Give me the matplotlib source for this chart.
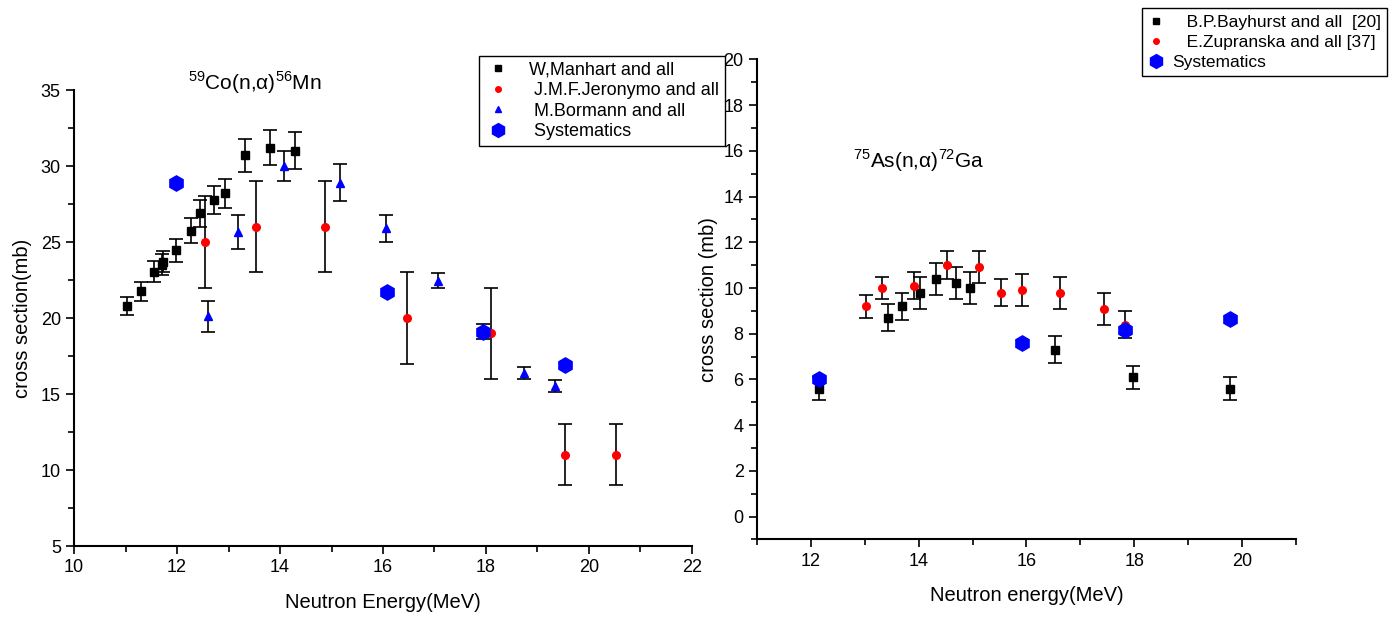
import matplotlib
matplotlib.use("Agg")
import matplotlib.pyplot as plt
from matplotlib.lines import Line2D
from matplotlib.ticker import MultipleLocator

plt.rcParams['font.family'] = ['Liberation Sans', 'DejaVu Sans']
plt.rcParams['mathtext.fontset'] = 'custom'
plt.rcParams['mathtext.rm'] = 'Liberation Sans'

# ---- left panel: 59Co(n,a)56Mn ----
man_e = [11.02, 11.30, 11.55, 11.70, 11.73, 11.99, 12.27, 12.45, 12.72, 12.93, 13.32, 13.81, 14.30]
man_s = [20.8, 21.75, 23.05, 23.5, 23.7, 24.45, 25.75, 26.9, 27.75, 28.2, 30.7, 31.2, 31.0]
man_d = [0.6, 0.63, 0.67, 0.7, 0.7, 0.75, 0.83, 0.88, 0.92, 0.95, 1.1, 1.16, 1.22]

jer_e = [12.54, 13.53, 14.87, 16.46, 18.10, 19.54, 20.53]
jer_s = [25.0, 26.0, 26.0, 20.0, 19.0, 11.0, 11.0]
jer_d = [3, 3, 3, 3, 3, 2, 2]

bor_e = [12.60, 13.19, 14.08, 15.17, 16.06, 17.06, 17.94, 18.74, 19.34]
bor_s = [20.1, 25.65, 30.0, 28.9, 25.9, 22.45, 19.1, 16.4, 15.5]
bor_d = [1.0, 1.1, 1.0, 1.2, 0.9, 0.5, 0.5, 0.4, 0.4]

sys1_e = [11.99, 16.07, 17.94, 19.54]
sys1_s = [28.9, 21.7, 19.1, 16.9]

# ---- right panel: 75As(n,a)72Ga ----
bay_e = [12.15, 13.43, 13.70, 14.03, 14.33, 14.70, 14.95, 16.52, 17.98, 19.78]
bay_s = [5.6, 8.7, 9.2, 9.8, 10.4, 10.2, 10.0, 7.3, 6.1, 5.6]
bay_d = [0.5, 0.6, 0.6, 0.7, 0.7, 0.7, 0.7, 0.6, 0.5, 0.5]

zup_e = [13.02, 13.32, 13.92, 14.52, 15.12, 15.52, 15.92, 16.62, 17.43, 17.82]
zup_s = [9.2, 10.0, 10.1, 11.0, 10.9, 9.8, 9.9, 9.8, 9.1, 8.4]
zup_d = [0.5, 0.5, 0.6, 0.6, 0.7, 0.6, 0.7, 0.7, 0.7, 0.6]

sys2_e = [12.15, 15.92, 17.82, 19.78]
sys2_s = [6.0, 7.6, 8.15, 8.66]

fig = plt.figure(figsize=(13.94, 6.19), dpi=100)
ax1 = fig.add_axes([0.0531, 0.1179, 0.4433, 0.7367])
ax2 = fig.add_axes([0.5430, 0.1286, 0.3867, 0.7753])

eb = dict(fmt='none', ecolor='k', elinewidth=1.2, capsize=5, capthick=1.2)

ax1.errorbar(man_e, man_s, yerr=man_d, **eb)
ax1.errorbar(jer_e, jer_s, yerr=jer_d, **eb)
ax1.errorbar(bor_e, bor_s, yerr=bor_d, **eb)
ax1.plot(man_e, man_s, 's', color='k', ms=5.5, zorder=3)
ax1.plot(jer_e, jer_s, 'o', color='red', ms=5.5, zorder=3)
ax1.plot(bor_e, bor_s, '^', color='blue', ms=6, zorder=3)
ax1.plot(sys1_e, sys1_s, 'h', color='blue', ms=11, zorder=4)

ax2.errorbar(bay_e, bay_s, yerr=bay_d, **eb)
ax2.errorbar(zup_e, zup_s, yerr=zup_d, **eb)
ax2.plot(bay_e, bay_s, 's', color='k', ms=5.5, zorder=3)
ax2.plot(zup_e, zup_s, 'o', color='red', ms=5.5, zorder=3)
ax2.plot(sys2_e, sys2_s, 'h', color='blue', ms=11, zorder=4)

ax1.set_xlim(10, 22)
ax1.set_ylim(5, 35)
ax1.xaxis.set_major_locator(MultipleLocator(2))
ax1.xaxis.set_minor_locator(MultipleLocator(1))
ax1.yaxis.set_major_locator(MultipleLocator(5))
ax1.yaxis.set_minor_locator(MultipleLocator(2.5))
ax1.set_xlabel("Neutron Energy(MeV)", fontsize=14.5, labelpad=12)
ax1.set_ylabel("cross section(mb)", fontsize=14.5, labelpad=6)

ax2.set_xlim(11, 21)
ax2.set_ylim(-1, 20)
ax2.xaxis.set_major_locator(MultipleLocator(2))
ax2.xaxis.set_minor_locator(MultipleLocator(1))
ax2.yaxis.set_major_locator(MultipleLocator(2))
ax2.yaxis.set_minor_locator(MultipleLocator(1))
ax2.set_xlabel("Neutron energy(MeV)", fontsize=14.5, labelpad=12)
ax2.set_ylabel("cross section (mb)", fontsize=14.5, labelpad=4)

for ax in (ax1, ax2):
    ax.spines['top'].set_visible(False)
    ax.spines['right'].set_visible(False)
    ax.spines['left'].set_linewidth(1.5)
    ax.spines['bottom'].set_linewidth(1.5)
    ax.tick_params(which='major', direction='out', length=6, width=1.2, labelsize=13)
    ax.tick_params(which='minor', direction='out', length=4, width=1.2)

fig.text(0.183, 0.867, r'$^{59}$Co(n,α)$^{56}$Mn', fontsize=15, ha='center', va='center')
ax2.text(0.30, 0.79, r'$^{75}$As(n,α)$^{72}$Ga', fontsize=15, ha='center', va='center',
         transform=ax2.transAxes)

h1 = [Line2D([], [], ls='none', marker='s', color='k', ms=4),
      Line2D([], [], ls='none', marker='o', color='red', ms=4),
      Line2D([], [], ls='none', marker='^', color='blue', ms=5),
      Line2D([], [], ls='none', marker='h', color='blue', ms=10)]
leg1 = fig.legend(h1, ["W,Manhart and all", " J.M.F.Jeronymo and all", " M.Bormann and all", " Systematics"],
                  loc='upper left', bbox_to_anchor=(0.337, 0.924), fontsize=13,
                  frameon=True, fancybox=False, edgecolor='k', framealpha=1,
                  handlelength=1.5, handletextpad=1.0, labelspacing=0.2, borderpad=0.3)
leg1.get_frame().set_linewidth(1.0)

h2 = [Line2D([], [], ls='none', marker='s', color='k', ms=4),
      Line2D([], [], ls='none', marker='o', color='red', ms=4),
      Line2D([], [], ls='none', marker='h', color='blue', ms=10)]
leg2 = fig.legend(h2, ["   B.P.Bayhurst and all  [20]", "   E.Zupranska and all [37]", "Systematics"],
                  loc='upper left', bbox_to_anchor=(0.8164, 0.992), fontsize=12.5,
                  frameon=True, fancybox=False, edgecolor='k', framealpha=1,
                  handlelength=1.0, handletextpad=0.4, labelspacing=0.3, borderpad=0.35,
                  borderaxespad=0.2)
leg2.get_frame().set_linewidth(1.0)

fig.savefig("out.png", dpi=100)
